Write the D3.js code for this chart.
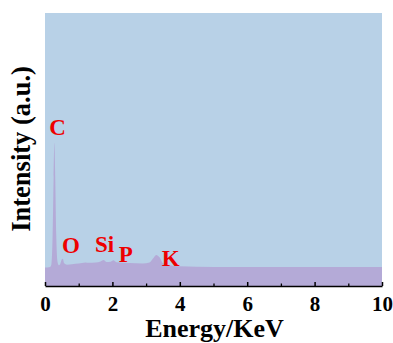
<!DOCTYPE html>
<html>
<head>
<meta charset="utf-8">
<script src="https://cdn.jsdelivr.net/npm/d3@7"></script>
<style>
  body { margin: 0; background: #fff; }
  svg { display: block; }
</style>
</head>
<body>
<script>
// EDS spectrum
const energy = [0, 0.15, 0.19, 0.225, 0.257, 0.28, 0.303, 0.335, 0.37, 0.41, 0.45, 0.5, 0.53, 0.57,
  0.65, 0.8, 1.0, 1.2, 1.3, 1.5, 1.65, 1.74, 1.82, 1.95, 2.03, 2.12, 2.5, 2.9, 3.1, 3.2, 3.3,
  3.4, 3.5, 3.7, 4.0, 5.0, 7.0, 10];
const counts = [6.8, 7.0, 8.0, 18, 40, 52.5, 40, 18, 9, 7.6, 8.0, 9.8, 10, 8.3,
  7.8, 8.0, 8.2, 8.6, 8.5, 8.6, 9.0, 9.5, 8.8, 8.9, 9.4, 8.7, 8.4, 8.2, 8.6, 10, 11.4,
  10.5, 8.3, 7.6, 7.2, 7.0, 7.0, 7.0];

const elements = ['C', 'O', 'Si', 'P', 'K'];
const labelX = [0.37, 0.77, 1.77, 2.4, 3.73];   // keV
const labelY = [55.3, 12.1, 12.4, 8.8, 7.3];    // baseline in counts units

const xTicks = [0, 2, 4, 6, 8, 10];

const width = 393, height = 343;
const margin = {top: 13, right: 11, bottom: 57, left: 45};
const serif = '"Liberation Serif", "Times New Roman", serif';

const svg = d3.select('body').append('svg')
    .attr('width', width)
    .attr('height', height);

const x = d3.scaleLinear().domain([0, 10]).range([margin.left, width - margin.right]);
const y = d3.scaleLinear().domain([0, 100]).range([height - margin.bottom, margin.top]);

// plot background
svg.append('rect')
    .attr('x', x(0))
    .attr('y', y(100))
    .attr('width', x(10) - x(0))
    .attr('height', y(0) - y(100))
    .attr('fill', '#b8d1e7');

const pts = energy.map((e, i) => [e, counts[i]]);

svg.append('path')
    .datum(pts)
    .attr('fill', '#b4aad7')
    .attr('d', d3.area()
        .x(d => x(d[0]))
        .y0(y(0))
        .y1(d => y(d[1]))
        .curve(d3.curveMonotoneX));

// element labels
svg.append('g')
    .selectAll('text')
    .data(elements)
    .join('text')
    .attr('x', (d, i) => x(labelX[i]))
    .attr('y', (d, i) => y(labelY[i]))
    .attr('text-anchor', 'middle')
    .attr('fill', '#ee0000')
    .attr('font-family', serif)
    .attr('font-weight', 'bold')
    .attr('font-size', 23)
    .text(d => d);

// x axis: major ticks inward, minor ticks in between
const xAxis = svg.append('g')
    .attr('transform', `translate(0,${y(0)})`)
    .call(d3.axisBottom(x).tickValues(xTicks).tickSize(-4).tickSizeOuter(0).tickFormat(d3.format('d')));

svg.append('g')
    .attr('transform', `translate(0,${y(0)})`)
    .call(d3.axisBottom(x).tickValues([1, 3, 5, 7, 9]).tickSize(-2.5).tickSizeOuter(0).tickFormat(''))
    .call(g => g.select('.domain').remove())
    .selectAll('line').attr('stroke-width', 1.3);

xAxis.select('.domain').attr('stroke-width', 1.6);
xAxis.selectAll('line').attr('stroke-width', 1.5);
xAxis.selectAll('text')
    .attr('y', 10)
    .attr('fill', '#000')
    .attr('font-family', serif)
    .attr('font-weight', 'bold')
    .attr('font-size', 21);

// axis titles
svg.append('text')
    .attr('x', (x(0) + x(10)) / 2 + 1)
    .attr('y', 337)
    .attr('text-anchor', 'middle')
    .attr('font-family', serif)
    .attr('font-weight', 'bold')
    .attr('font-size', 26)
    .text('Energy/KeV');

svg.append('text')
    .attr('transform', 'translate(30,149) rotate(-90)')
    .attr('text-anchor', 'middle')
    .attr('font-family', serif)
    .attr('font-weight', 'bold')
    .attr('font-size', 26.5)
    .text('Intensity (a.u.)');
</script>
</body>
</html>
